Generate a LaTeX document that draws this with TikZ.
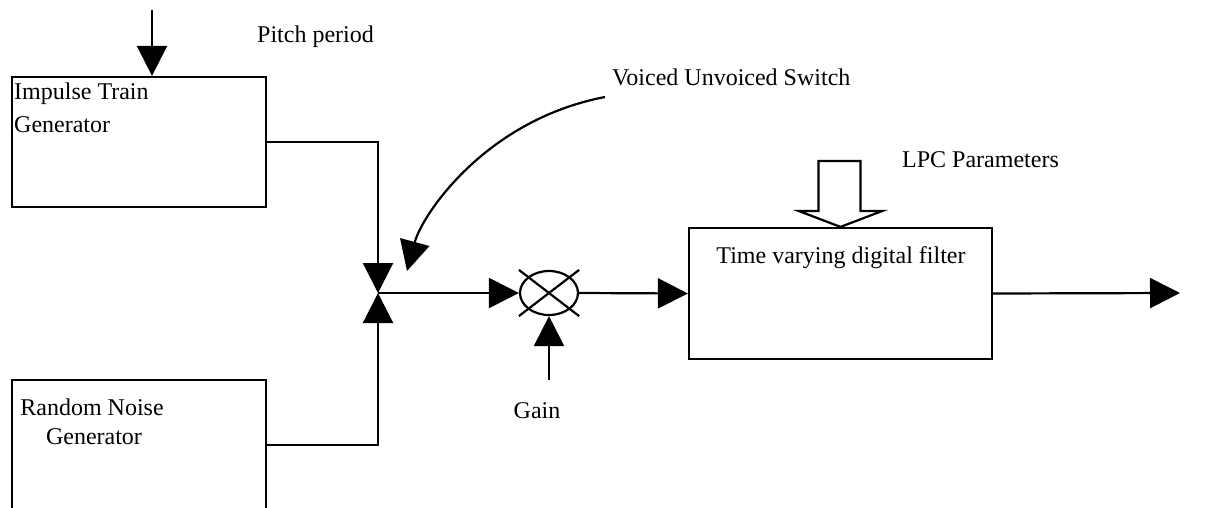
\documentclass[tikz,border=0pt]{standalone}
\usepackage{fontspec}
\setmainfont{Liberation Serif}
\usetikzlibrary{arrows.meta,shapes.geometric,calc}
\tikzset{
  wire/.style={line width=2.2pt},
  tip/.style={wire,-{Triangle[length=30pt,width=30pt]}},
  blk/.style={draw,wire,rectangle,inner sep=0pt},
  lbl/.style={inner sep=0pt,font=\fontsize{24}{29}\selectfont},
}
\begin{document}
\begin{tikzpicture}[x=1pt,y=-1pt]
\useasboundingbox (0,0) rectangle (1207,508);
\clip (0,0) rectangle (1207,508);

% blocks
\node[blk,minimum width=254pt,minimum height=130pt] (itg) at (139,142) {};
\node[blk,minimum width=254pt,minimum height=130pt] (rng) at (139,445) {};
\node[blk,minimum width=303pt,minimum height=131pt] (flt) at (840.5,293.5) {};
\node[draw,wire,ellipse,inner sep=0pt,minimum width=58pt,minimum height=44pt] (mix) at (549,293) {};
\draw[wire] (mix.west |- mix.north) -- (mix.east |- mix.south);
\draw[wire] (mix.west |- mix.south) -- (mix.east |- mix.north);

% block texts
\node[lbl,anchor=base west] (t1a) at (14,100) {Impulse Train};
\node[lbl,anchor=base west] (t1b) at (14,133) {Generator};
\node[lbl,anchor=base] (t2a) at (92,415) {Random Noise};
\node[lbl,anchor=base] (t2b) at (94,444) {Generator};
\node[lbl,anchor=base] (t3) at (841,263) {Time varying digital filter};

% free labels
\node[lbl,anchor=base west] (lpitch) at (257,43) {Pitch period};
\node[lbl,anchor=base west] (lvuv) at (612,86) {Voiced Unvoiced Switch};
\node[lbl,anchor=base west] (llpc) at (902,167) {LPC Parameters};
\node[lbl,anchor=base] (lgain) at (537,418) {Gain};

% connection points
\coordinate (J) at (378,293);
\coordinate (pitchsrc) at (152,10);
\coordinate (gainsrc) at (549,380);
\coordinate (vuvsrc) at (605,97);
\coordinate (vuvtip) at (407,271);
\coordinate (out) at (1180,293);

% connectors
\draw[tip] (pitchsrc) -- (pitchsrc |- itg.north);
\draw[tip] (itg.east) -| (J);
\draw[tip] (rng.east) -| (J);
\draw[tip] (J) -- (mix.west);
\draw[tip] (gainsrc) -- (mix.south);
\draw[tip] (mix.east) -- (flt.west);
\draw[tip] (flt.east) -- (out);
\draw[tip] (vuvsrc) .. controls (485,120) and (422,215) .. (vuvtip);

% hollow parameter arrow into the filter
\draw[wire,line join=miter,shift={(flt.north)}]
  (-22,-66) -- (20,-66) -- (20,-16) -- (42,-16) -- (0,0)
  -- (-42,-16) -- (-22,-16) -- cycle;
\end{tikzpicture}
\end{document}
